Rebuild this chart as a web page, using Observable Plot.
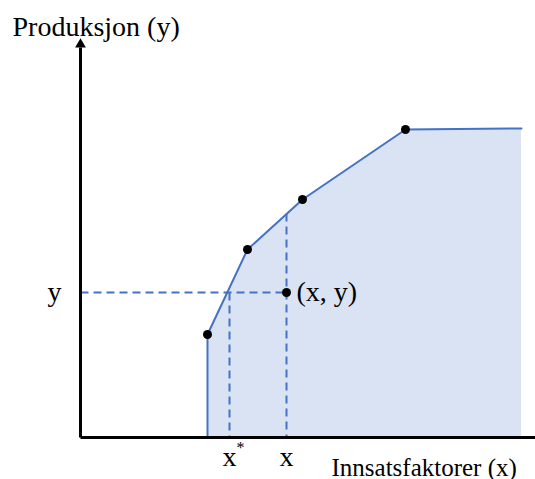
<!DOCTYPE html>
<html>
<head>
<meta charset="utf-8">
<script src="https://cdn.jsdelivr.net/npm/d3@7"></script>
<script src="https://cdn.jsdelivr.net/npm/@observablehq/plot@0.6"></script>
<style>
  html, body { margin: 0; padding: 0; background: #fff; }
  svg { display: block; }
</style>
</head>
<body>
<script>
// Production frontier (input x, output y), schematic units
const frontierX = [12.7, 12.7, 16.7, 22.2, 32.5, 44.1];
const frontierY = [0, 10.3, 18.8, 23.8, 30.8, 30.9];
// Observed kink points (dots on the frontier)
const kinkX = [12.7, 16.7, 22.2, 32.5];
const kinkY = [10.3, 18.8, 23.8, 30.8];
// Observed unit (x, y) and efficient input x*
const obsX = 20.6, obsY = 14.5;
const xStar = 14.9;
const frontierAtObsX = 22.4;

const frontier = frontierX.map((x, i) => ({x, y: frontierY[i]}));
const kinks = kinkX.map((x, i) => ({x, y: kinkY[i]}));
const guides = [
  {x1: 0, y1: obsY, x2: obsX, y2: obsY},
  {x1: xStar, y1: obsY, x2: xStar, y2: 0},
  {x1: obsX, y1: frontierAtObsX, x2: obsX, y2: 0}
];
const axes = [
  {x1: 0, y1: 0, x2: 0, y2: 39.0},
  {x1: 0, y1: 0, x2: 45.5, y2: 0}
];

const blue = "#4472c4";
const font = "Liberation Serif";

const chart = Plot.plot({
  width: 535,
  height: 479,
  marginLeft: 80,
  marginRight: 0,
  marginTop: 40,
  marginBottom: 42,
  x: {domain: [0, 45.5], axis: null},
  y: {domain: [0, 39.7], axis: null},
  style: {fontFamily: font, background: "#fff", overflow: "visible"},
  marks: [
    Plot.areaY(frontier, {x: "x", y: "y", fill: "#dae3f3"}),
    Plot.link(guides, {x1: "x1", y1: "y1", x2: "x2", y2: "y2", stroke: blue, strokeWidth: 2, strokeDasharray: "8,5"}),
    Plot.line(frontier, {x: "x", y: "y", stroke: blue, strokeWidth: 2}),
    Plot.link(axes, {x1: "x1", y1: "y1", x2: "x2", y2: "y2", stroke: "black", strokeWidth: 3}),
    Plot.dot([{x: 0, y: 39.3}], {x: "x", y: "y", symbol: "triangle", r: 4, fill: "black"}),
    Plot.dot(kinks, {x: "x", y: "y", r: 4.5, fill: "black"}),
    Plot.dot([{x: obsX, y: obsY}], {x: "x", y: "y", r: 4.5, fill: "black"}),
    Plot.text([{x: obsX, y: obsY, t: "(x, y)"}], {x: "x", y: "y", text: "t", textAnchor: "start", dx: 10, fontSize: 28, fill: "black", fontFamily: font}),
    Plot.text([{x: -6.8, y: 41.0, t: "Produksjon (y)"}], {x: "x", y: "y", text: "t", textAnchor: "start", fontSize: 28, fill: "black", fontFamily: font}),
    Plot.text([{x: -2.6, y: obsY, t: "y"}], {x: "x", y: "y", text: "t", fontSize: 28, fill: "black", fontFamily: font}),
    Plot.text([{x: xStar, y: -2.0, t: "x"}], {x: "x", y: "y", text: "t", fontSize: 28, fill: "black", fontFamily: font}),
    Plot.text([{x: xStar, y: -2.0, t: "*"}], {x: "x", y: "y", text: "t", dx: 11, dy: -10, fontSize: 16, fill: "black", fontFamily: font}),
    Plot.text([{x: obsX, y: -2.0, t: "x"}], {x: "x", y: "y", text: "t", fontSize: 28, fill: "black", fontFamily: font}),
    Plot.text([{x: 25.1, y: -3.0, t: "Innsatsfaktorer (x)"}], {x: "x", y: "y", text: "t", textAnchor: "start", fontSize: 25, fill: "black", fontFamily: font})
  ]
});
document.body.appendChild(chart);
</script>
</body>
</html>
